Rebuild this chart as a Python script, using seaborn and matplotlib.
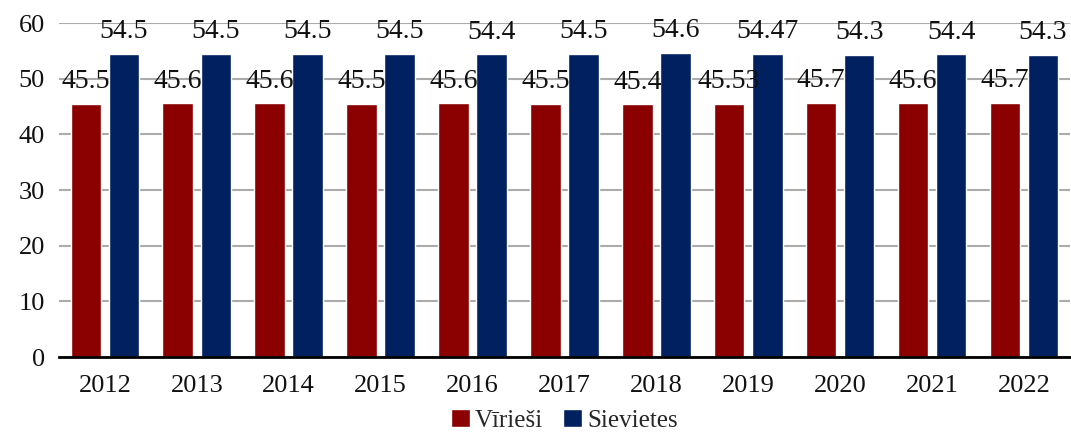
import matplotlib
matplotlib.use("Agg")
import matplotlib.pyplot as plt
import seaborn as sns
import pandas as pd

years = ["2012", "2013", "2014", "2015", "2016", "2017", "2018", "2019", "2020", "2021", "2022"]
virriesi = [45.5, 45.6, 45.6, 45.5, 45.6, 45.5, 45.4, 45.53, 45.7, 45.6, 45.7]
sievietes = [54.5, 54.5, 54.5, 54.5, 54.4, 54.5, 54.6, 54.47, 54.3, 54.4, 54.3]
virriesi_labels = ["45.5", "45.6", "45.6", "45.5", "45.6", "45.5", "45.4", "45.53", "45.7", "45.6", "45.7"]
sievietes_labels = ["54.5", "54.5", "54.5", "54.5", "54.4", "54.5", "54.6", "54.47", "54.3", "54.4", "54.3"]
series = ["Vīrieši", "Sievietes"]
colors = ["#8B0000", "#002060"]

df = pd.DataFrame({
    "year": years * 2,
    "value": virriesi + sievietes,
    "series": [series[0]] * len(years) + [series[1]] * len(years),
})

sns.set_theme(style="white")
plt.rcParams["font.family"] = ["Liberation Serif", "DejaVu Serif"]

fig = plt.figure(figsize=(10.71, 4.37), dpi=100)
ax = fig.add_axes([0.055, 0.183, 0.944, 0.764])

sns.barplot(data=df, x="year", y="value", hue="series", palette=colors,
            width=0.83, gap=0.2, ax=ax, legend=True, saturation=1)

for cont, labs in zip(ax.containers, [virriesi_labels, sievietes_labels]):
    ax.bar_label(cont, labels=labs, padding=7, fontsize=20, color="#111111")

ax.set_ylim(0, 60)
ax.set_xlim(-0.5, len(years) - 0.5)
ax.set_yticks(range(0, 61, 10))
ax.yaxis.grid(True, color="#ABABAB", linewidth=1.5)
ax.set_axisbelow(True)
for s in ["top", "right", "left"]:
    ax.spines[s].set_visible(False)
ax.spines["bottom"].set_color("black")
ax.spines["bottom"].set_linewidth(2)
ax.tick_params(axis="both", length=0, labelsize=19, colors="#111111")
ax.tick_params(axis="x", pad=13)
ax.tick_params(axis="y", pad=10)
ax.set_xlabel("")
ax.set_ylabel("")

leg = ax.legend(loc="center", bbox_to_anchor=(0.5, -0.19), ncol=2, frameon=False,
                fontsize=18, handlelength=0.75, handleheight=0.75, handletextpad=0.2,
                columnspacing=0.8, borderpad=0)

fig.savefig("out.png", dpi=100)
